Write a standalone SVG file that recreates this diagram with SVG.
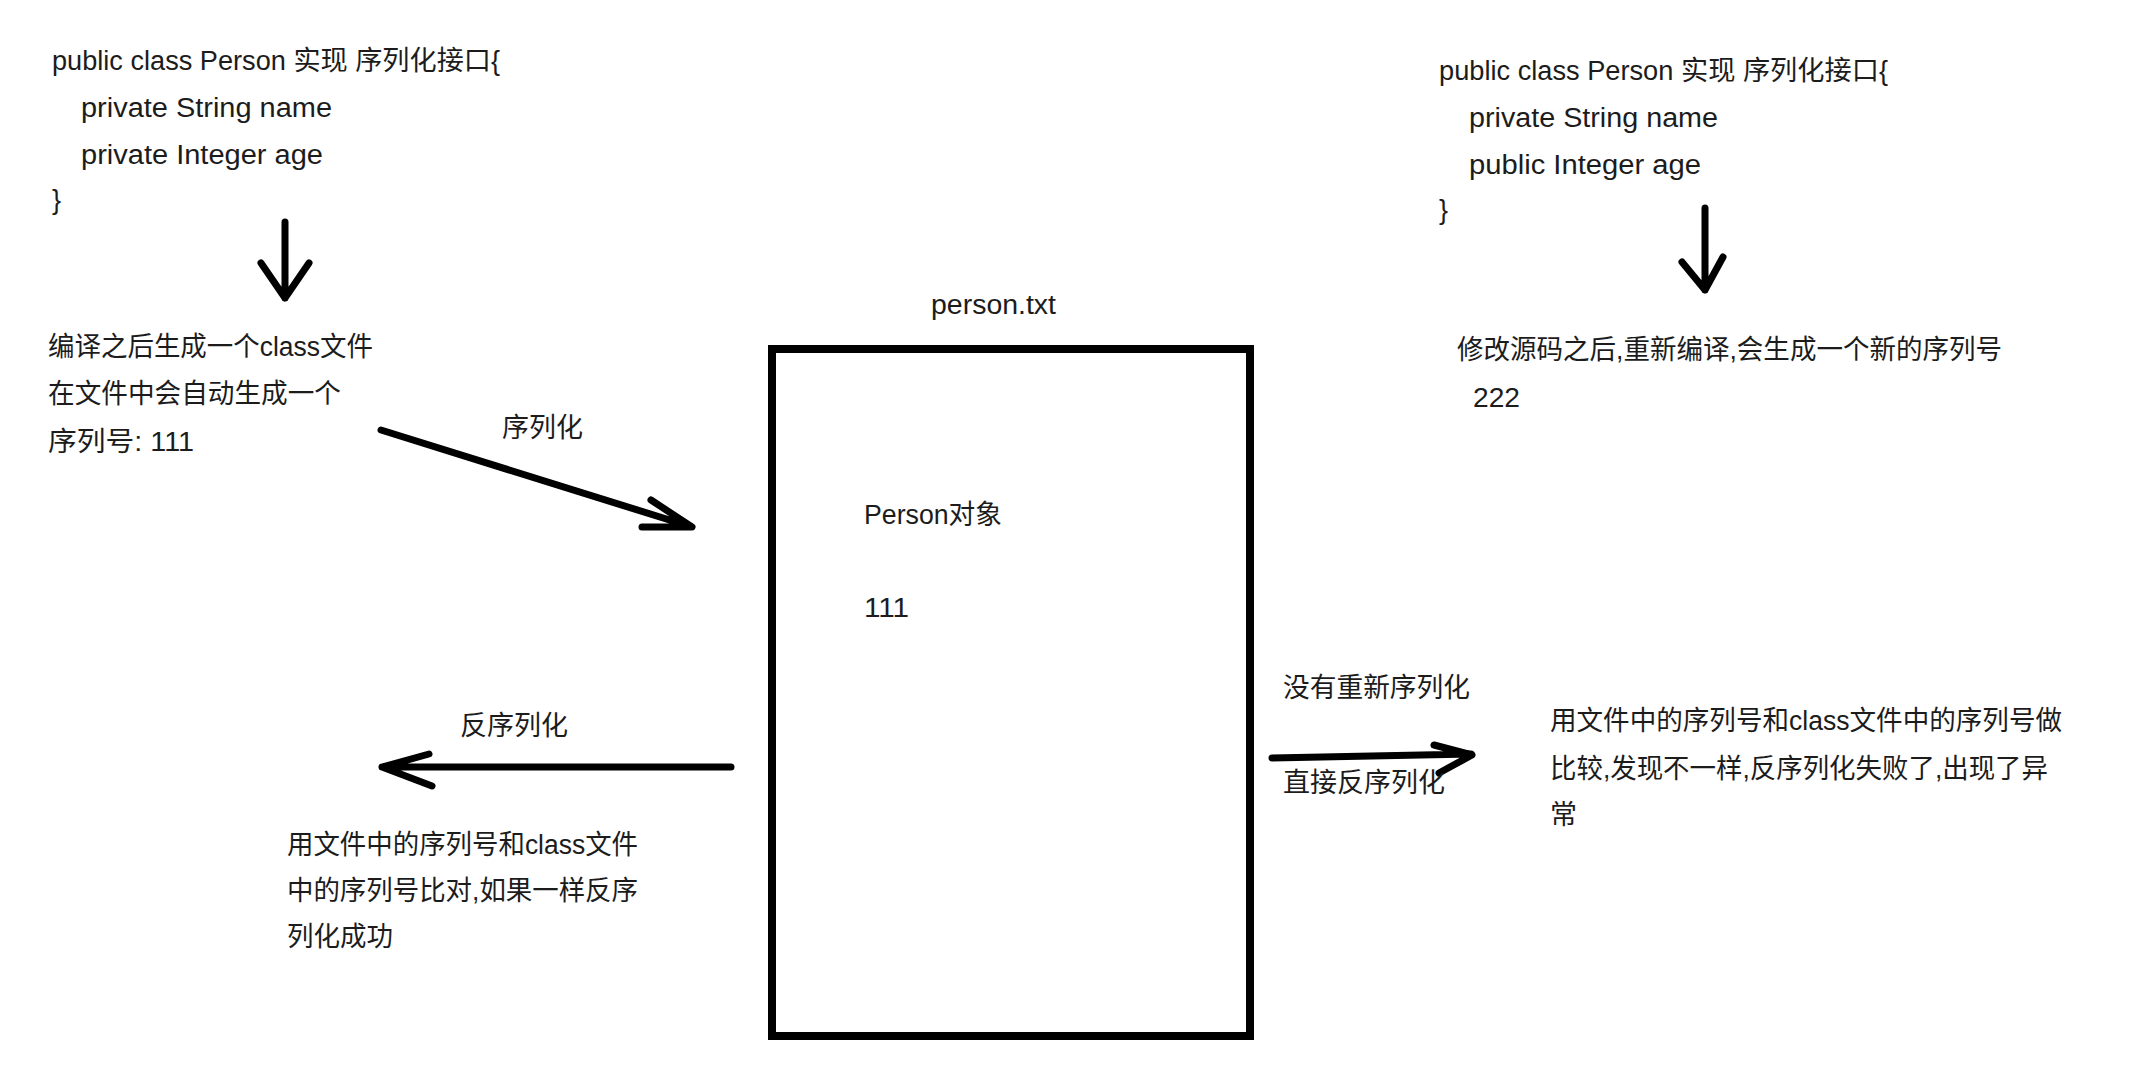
<svg xmlns="http://www.w3.org/2000/svg" width="2150" height="1091" viewBox="0 0 2150 1091">
<style>
text{font-family:"Liberation Sans","Noto Sans CJK SC",sans-serif;font-size:27px;fill:#1c1c1c}
.arrow{fill:none;stroke:#000;stroke-width:7;stroke-linecap:round;stroke-linejoin:round}
.box{fill:#fff;stroke:#000;stroke-width:8}
</style>
<rect width="2150" height="1091" fill="#fff"/>
<g id="class-left">
<text x="52" y="70" textLength="448" lengthAdjust="spacingAndGlyphs">public class Person 实现 序列化接口{</text>
<text x="81" y="117" textLength="251" lengthAdjust="spacingAndGlyphs">private String name</text>
<text x="81" y="164" textLength="242" lengthAdjust="spacingAndGlyphs">private Integer age</text>
<text x="52" y="209">}</text>
</g>
<g id="compile-left">
<text x="48" y="356" textLength="325" lengthAdjust="spacingAndGlyphs">编译之后生成一个class文件</text>
<text x="48" y="403" textLength="293" lengthAdjust="spacingAndGlyphs">在文件中会自动生成一个</text>
<text x="48" y="451" textLength="146" lengthAdjust="spacingAndGlyphs">序列号: 111</text>
</g>
<g id="class-right">
<text x="1439" y="80" textLength="449" lengthAdjust="spacingAndGlyphs">public class Person 实现 序列化接口{</text>
<text x="1469" y="127" textLength="249" lengthAdjust="spacingAndGlyphs">private String name</text>
<text x="1469" y="174" textLength="232" lengthAdjust="spacingAndGlyphs">public Integer age</text>
<text x="1439" y="219">}</text>
</g>
<g id="compile-right">
<text x="1457" y="359" textLength="545" lengthAdjust="spacingAndGlyphs">修改源码之后,重新编译,会生成一个新的序列号</text>
<text x="1473" y="407" textLength="47" lengthAdjust="spacingAndGlyphs">222</text>
</g>
<g id="person-file">
<text x="931" y="314" textLength="125" lengthAdjust="spacingAndGlyphs">person.txt</text>
<rect class="box" x="772" y="349" width="478" height="687"/>
<text x="864" y="524" textLength="138" lengthAdjust="spacingAndGlyphs">Person对象</text>
<text x="864" y="617" textLength="45" lengthAdjust="spacingAndGlyphs">111</text>
</g>
<g id="result-left">
<text x="287" y="854" textLength="351" lengthAdjust="spacingAndGlyphs">用文件中的序列号和class文件</text>
<text x="287" y="900" textLength="351" lengthAdjust="spacingAndGlyphs">中的序列号比对,如果一样反序</text>
<text x="287" y="946" textLength="106" lengthAdjust="spacingAndGlyphs">列化成功</text>
</g>
<g id="result-right">
<text x="1550" y="730" textLength="512" lengthAdjust="spacingAndGlyphs">用文件中的序列号和class文件中的序列号做</text>
<text x="1550" y="778" textLength="498" lengthAdjust="spacingAndGlyphs">比较,发现不一样,反序列化失败了,出现了异</text>
<text x="1550" y="824">常</text>
</g>
<g id="connectors">
<path class="arrow" d="M285 222 L285 298 M261 263 L285 298 L309 263"/>
<path class="arrow" d="M1705 208 L1705 290 M1682 262 L1705 290 L1723 257"/>
<path class="arrow" d="M381 430 L692 527 M651 500 L692 527 L642 527"/>
<text x="502" y="437" textLength="81" lengthAdjust="spacingAndGlyphs">序列化</text>
<path class="arrow" d="M731 767 L382 767 M429 754 L382 767 L432 786"/>
<text x="460" y="735" textLength="108" lengthAdjust="spacingAndGlyphs">反序列化</text>
<path class="arrow" d="M1272 758 L1471 754 M1434 745 L1472 755 L1439 773"/>
<text x="1283" y="697" textLength="187" lengthAdjust="spacingAndGlyphs">没有重新序列化</text>
<text x="1283" y="792" textLength="162" lengthAdjust="spacingAndGlyphs">直接反序列化</text>
</g>
</svg>
